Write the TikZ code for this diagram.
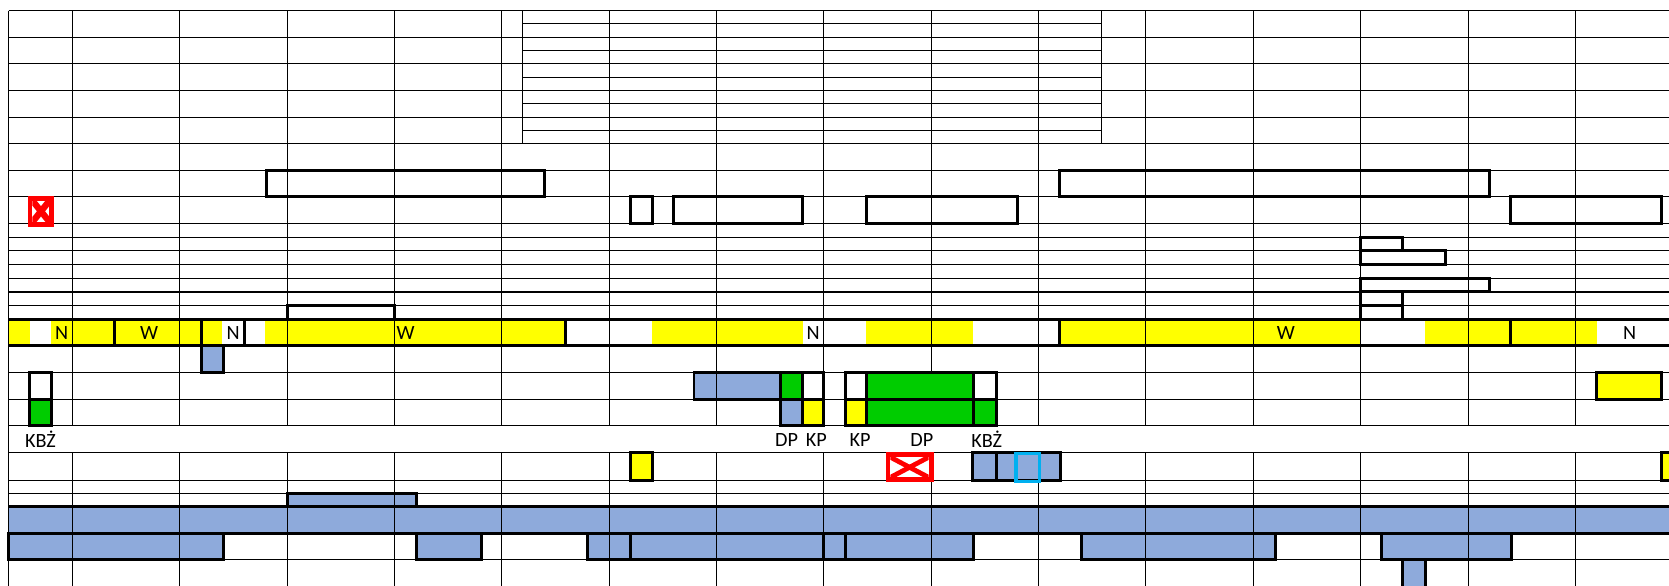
\documentclass[tikz,border=0pt]{standalone}
\usepackage{fontspec}
\setmainfont{Carlito}
\definecolor{ylw}{RGB}{255,255,0}
\definecolor{grn}{RGB}{0,204,0}
\definecolor{blu}{RGB}{142,170,219}
\definecolor{cyn}{RGB}{0,176,240}
\definecolor{rd}{RGB}{255,0,0}
\begin{document}
\begin{tikzpicture}[x=1pt,y=-1pt,
  gridline/.style={line width=1pt,black},
  bandline/.style={line width=2.8pt,black},
  tbox/.style={draw=black,line width=2.8pt},
  yfill/.style={fill=ylw},
  bfill/.style={fill=blu},
  gfill/.style={fill=grn},
  lbl/.style={inner sep=0pt,font=\fontsize{19}{22}\selectfont},
  redbox/.style={fill=rd},
  redx/.style={draw=rd,line width=4.5pt}]
\useasboundingbox (0,0) rectangle (1568,550);
\clip (0,0) rectangle (1568,550);
% ---------- fills ----------
% yellow band
\fill[yfill] (8,300) rectangle (28,325);
\fill[yfill] (48,300) rectangle (209,325);
\fill[yfill] (249,300) rectangle (531,325);
\fill[yfill] (613,300) rectangle (754,325);
\fill[yfill] (814,300) rectangle (914,325);
\fill[yfill] (995,300) rectangle (1278.3,325);
\fill[yfill] (1339,300) rectangle (1500,325);
% blue band
\fill[bfill] (8,476) rectangle (1580,501);
% blue cells
\fill[bfill] (189,325) rectangle (210,350);
\fill[bfill] (652,350) rectangle (733,375);
\fill[bfill] (733,375) rectangle (754,400);
\fill[bfill] (914,425) rectangle (996,451);
\fill[bfill] (270,463.5) rectangle (391,476);
\foreach \a/\b in {8/210,391/452,552/592,592/774,774/794,794/915,1016/1198,1298/1420}
  \fill[bfill] (\a,501) rectangle (\b,526);
\fill[bfill] (1318,526) rectangle (1339,560);
% yellow cells
\fill[yfill] (754,375) rectangle (774,400);
\fill[yfill] (794,375) rectangle (814,400);
\fill[yfill] (1500,350) rectangle (1561,375);
\fill[yfill] (592,425) rectangle (613,451);
\fill[yfill] (1561,425) rectangle (1590,451);
% ---------- grid ----------
\foreach \c in {68,168.9,269.7,370.6,471.4,572.3,673.2,774,874.9,975.7,1076.6,1177.5,1278.3,1379.2,1480}{
  \draw[gridline] (\c,10) -- (\c,400);
  \draw[gridline] (\c,425) -- (\c,560);
}
\draw[gridline] (8,10) -- (8,560);
\foreach \r in {10,35,60,85,110,135,160,185,210,222.9,235.7,248.6,261.4,274.3,287.1,350,375,400,425,451,463.5,526}
  \draw[gridline] (8,\r) -- (1580,\r);
\foreach \r in {22.5,47.5,72.5,97.5,122.5}
  \draw[gridline] (491,\r) -- (1035,\r);
\draw[gridline] (491,10) -- (491,135);
\draw[gridline] (1035,10) -- (1035,135);
% green cells (cover grid)
\fill[gfill] (28,375) rectangle (48,400);
\fill[gfill] (733,350) rectangle (754,375);
\fill[gfill] (814,350) rectangle (915,375);
\fill[gfill] (814,375) rectangle (915,400);
\fill[gfill] (915,375) rectangle (936,400);
% ---------- thick lines ----------
\foreach \r in {300,325,476,501}
  \draw[bandline] (8,\r) -- (1580,\r);
\foreach \c in {108,189,229.6,531,995,1419.5}
  \draw[bandline] (\c,300) -- (\c,325);
% top boxes
\draw[tbox] (250,160) rectangle (512,185);
\draw[tbox] (995,160) rectangle (1399,185);
\draw[tbox] (592,185) rectangle (613,210);
\draw[tbox] (633,185) rectangle (754,210);
\draw[tbox] (814,185) rectangle (956,210);
\draw[tbox] (1419.5,185) rectangle (1561,210);
\draw[tbox] (1278.3,222.9) rectangle (1318,235.7);
\draw[tbox] (1278.3,235.7) rectangle (1358,248.6);
\draw[tbox] (1278.3,261.4) rectangle (1399,274.3);
\draw[tbox] (1278.3,274.3) rectangle (1318,287.1);
\draw[tbox] (1278.3,287.1) rectangle (1318,300);
\draw[tbox] (270,287.1) rectangle (370.6,300);
% below band
\draw[tbox] (189,325) rectangle (210,350);
\draw[tbox] (28,350) rectangle (48,375);
\draw[tbox] (28,375) rectangle (48,400);
\draw[tbox] (652,350) rectangle (733,375);
\draw[tbox] (733,350) rectangle (754,375);
\draw[tbox] (754,350) rectangle (774,375);
\draw[tbox] (733,375) rectangle (754,400);
\draw[tbox] (754,375) rectangle (774,400);
\draw[tbox] (794,350) rectangle (814,375);
\draw[tbox] (814,350) rectangle (915,375);
\draw[tbox] (915,350) rectangle (936,375);
\draw[tbox] (794,375) rectangle (814,400);
\draw[tbox] (814,375) rectangle (915,400);
\draw[tbox] (915,375) rectangle (936,400);
\draw[tbox] (1500,350) rectangle (1561,375);
\draw[tbox] (592,425) rectangle (613,451);
\draw[tbox] (914,425) rectangle (936,451);
\draw[tbox] (936,425) rectangle (996,451);
\draw[tbox] (1561,425) rectangle (1590,451);
\draw[draw=cyn,line width=3pt] (954.5,426) rectangle (976.5,452);
\draw[tbox] (270,463.5) rectangle (391,476);
\foreach \a/\b in {8/210,391/452,552/592,592/774,774/794,794/915,1016/1198,1298/1420}
  \draw[tbox] (\a,501) rectangle (\b,526);
\draw[tbox] (1318,526) rectangle (1339,560);
% ---------- texts ----------
\node[lbl] (n1) at (58,312.5) {N};
\node[lbl] (w1) at (140,312.5) {W};
\node[lbl] (n2) at (219,312.5) {N};
\node[lbl] (w2) at (381,312.5) {W};
\node[lbl] (n3) at (764,312.5) {N};
\node[lbl] (w3) at (1208,312.5) {W};
\node[lbl] (n4) at (1531,312.5) {N};
\node[lbl] (l1) at (38,413) {KBŻ};
\node[lbl] (l2) at (739,413) {DP};
\node[lbl] (l3) at (767,413) {KP};
\node[lbl] (l4) at (808,413) {KP};
\node[lbl] (l5) at (866,413) {DP};
\node[lbl] (l6) at (927,413) {KBŻ};
% ---------- red icons ----------
\fill[redbox] (26,184) rectangle (51,213);
\fill[white] (30.5,188.5) rectangle (46.5,208.5);
\begin{scope}
  \clip (30.5,188.5) rectangle (46.5,208.5);
  \draw[redx,line width=6pt] (30.5,188.5) -- (46.5,208.5);
  \draw[redx,line width=6pt] (46.5,188.5) -- (30.5,208.5);
\end{scope}
\fill[redbox] (832,425) rectangle (877,453);
\fill[white] (836.5,429.5) rectangle (872.5,448.5);
\begin{scope}
  \clip (836.5,429.5) rectangle (872.5,448.5);
  \draw[redx] (836.5,429.5) -- (872.5,448.5);
  \draw[redx] (872.5,429.5) -- (836.5,448.5);
\end{scope}
\end{tikzpicture}
\end{document}
